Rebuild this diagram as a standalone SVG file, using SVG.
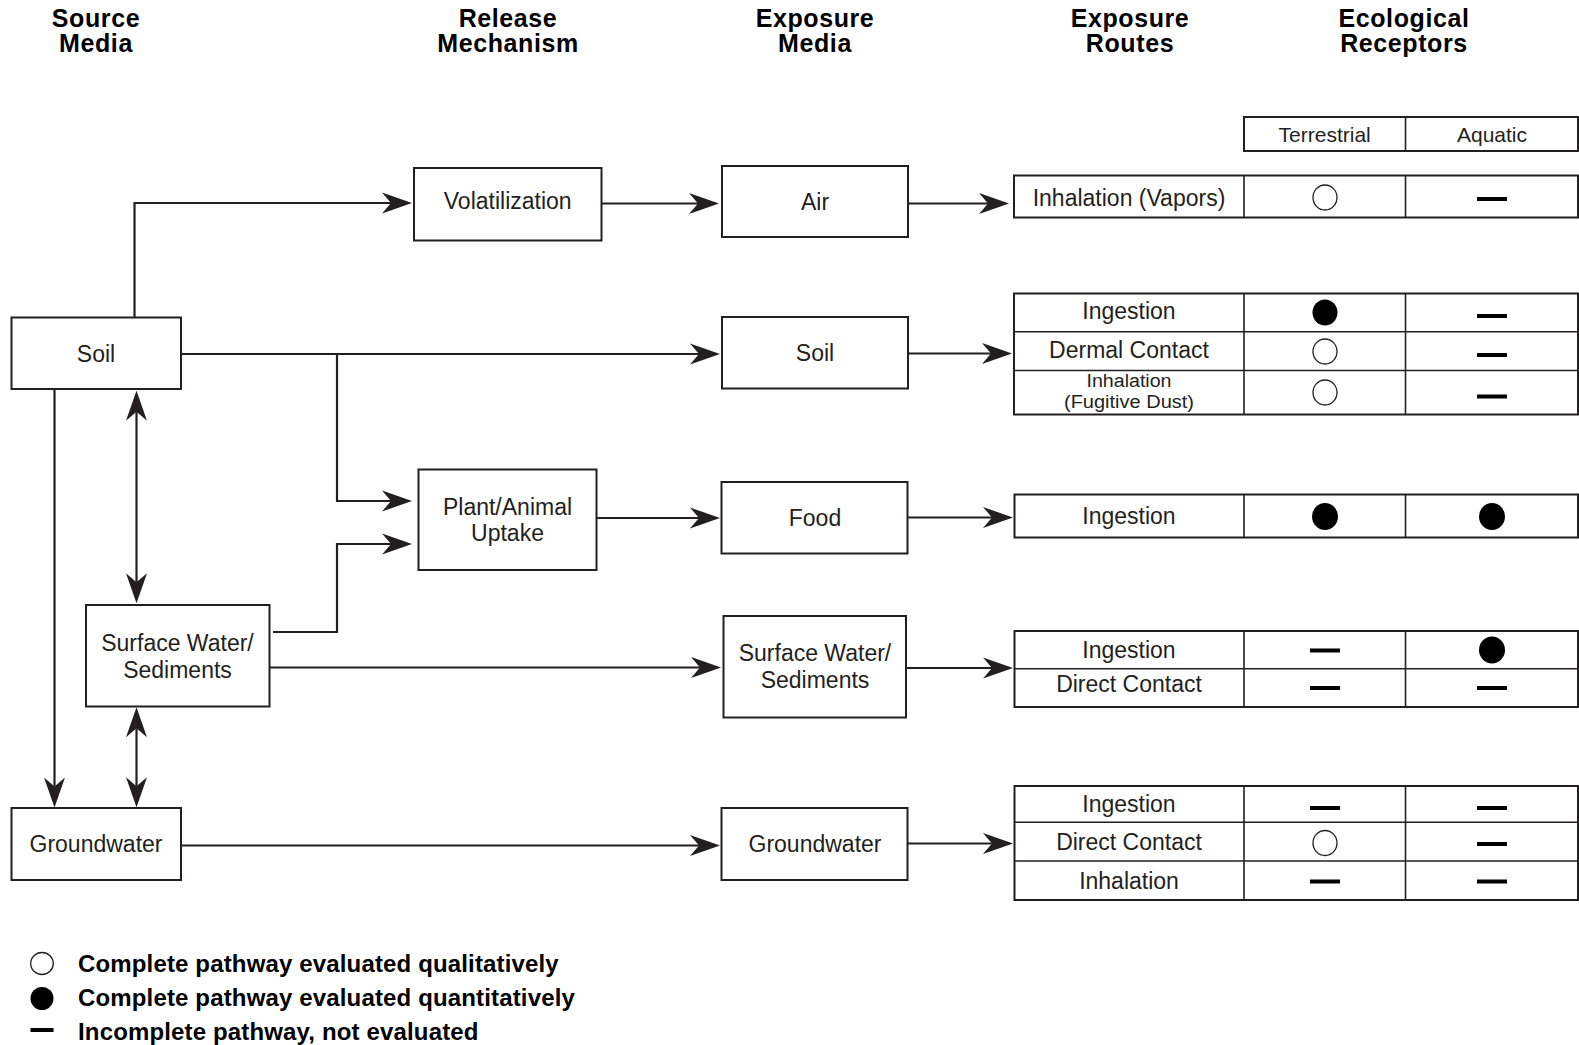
<svg xmlns="http://www.w3.org/2000/svg" width="1579" height="1045" viewBox="0 0 1579 1045">
<style>
.bg{fill:#ffffff}
.box{fill:#ffffff;stroke:#231f20;stroke-width:2}
.tbl{fill:none;stroke:#231f20;stroke-width:2}
.div{stroke:#231f20;stroke-width:1.6}
.con{fill:none;stroke:#231f20;stroke-width:2.2}
.hdr{font-family:"Liberation Sans",Arial,sans-serif;font-weight:bold;font-size:25px;letter-spacing:0.6px;fill:#000;text-anchor:middle}
.lbl{font-family:"Liberation Sans",Arial,sans-serif;font-size:23px;fill:#231f20;text-anchor:middle}
.sm{font-family:"Liberation Sans",Arial,sans-serif;font-size:18px;fill:#231f20;text-anchor:middle}
.th{font-family:"Liberation Sans",Arial,sans-serif;font-size:21px;fill:#231f20;text-anchor:middle}
.leg{font-family:"Liberation Sans",Arial,sans-serif;font-weight:bold;font-size:24px;letter-spacing:0.15px;fill:#000}
.open{fill:#ffffff;stroke:#231f20;stroke-width:1.3}
.full{fill:#000000}
.dash{fill:#000000}
</style>
<defs>
<marker id="ah" viewBox="0 0 30 22" refX="9" refY="11" markerWidth="30" markerHeight="22" markerUnits="userSpaceOnUse" orient="auto-start-reverse">
<path d="M30,11 L0,0.5 L9,11 L0,21.5 Z" fill="#231f20"/>
</marker>
</defs>
<rect class="bg" x="0" y="0" width="1579" height="1045"/>

<g id="headers">
<text class="hdr" x="96" y="27">Source</text>
<text class="hdr" x="96" y="52">Media</text>
<text class="hdr" x="508" y="27">Release</text>
<text class="hdr" x="508" y="52">Mechanism</text>
<text class="hdr" x="815" y="27">Exposure</text>
<text class="hdr" x="815" y="52">Media</text>
<text class="hdr" x="1130" y="27">Exposure</text>
<text class="hdr" x="1130" y="52">Routes</text>
<text class="hdr" x="1404" y="27">Ecological</text>
<text class="hdr" x="1404" y="52">Receptors</text>
</g>

<g id="connectors">
<path class="con" d="M134.5,317.5 V203 H391" marker-end="url(#ah)"/>
<path class="con" d="M601.5,203.5 H698" marker-end="url(#ah)"/>
<path class="con" d="M908,203.5 H988" marker-end="url(#ah)"/>
<path class="con" d="M181,354 H699" marker-end="url(#ah)"/>
<path class="con" d="M337,354 V501 H391" marker-end="url(#ah)"/>
<path class="con" d="M273,632 H337 V544 H391" marker-end="url(#ah)"/>
<path class="con" d="M591,518 H699" marker-end="url(#ah)"/>
<path class="con" d="M907.5,517.5 H992" marker-end="url(#ah)"/>
<path class="con" d="M908,353.5 H991" marker-end="url(#ah)"/>
<path class="con" d="M270,667.5 H700" marker-end="url(#ah)"/>
<path class="con" d="M906,668 H992" marker-end="url(#ah)"/>
<path class="con" d="M181,845.5 H699" marker-end="url(#ah)"/>
<path class="con" d="M907.5,843.5 H992" marker-end="url(#ah)"/>
<path class="con" d="M54.5,389 V786.5" marker-end="url(#ah)"/>
<path class="con" d="M136.5,411.7 V582.3" marker-start="url(#ah)" marker-end="url(#ah)"/>
<path class="con" d="M136.5,728.3 V786.3" marker-start="url(#ah)" marker-end="url(#ah)"/>
</g>

<g id="src-soil">
<rect class="box" x="11.5" y="317.5" width="169.5" height="71.5"/>
<text class="lbl" x="96" y="361.5">Soil</text>
</g>
<g id="src-surface-water">
<rect class="box" x="86" y="605" width="183.5" height="101.5"/>
<text class="lbl" x="177.5" y="651">Surface Water/</text>
<text class="lbl" x="177.5" y="677.5">Sediments</text>
</g>
<g id="src-groundwater">
<rect class="box" x="11.5" y="808" width="169.5" height="72"/>
<text class="lbl" x="96" y="852">Groundwater</text>
</g>

<g id="rel-volatilization">
<rect class="box" x="414" y="168" width="187.5" height="72.5"/>
<text class="lbl" x="507.7" y="209">Volatilization</text>
</g>
<g id="rel-plant-animal">
<rect class="box" x="418.5" y="469.5" width="178" height="100.5"/>
<text class="lbl" x="507.5" y="515">Plant/Animal</text>
<text class="lbl" x="507.5" y="541">Uptake</text>
</g>

<g id="exp-air">
<rect class="box" x="722" y="166" width="186" height="71"/>
<text class="lbl" x="815" y="209.5">Air</text>
</g>
<g id="exp-soil">
<rect class="box" x="722" y="317" width="186" height="71.5"/>
<text class="lbl" x="815" y="360.5">Soil</text>
</g>
<g id="exp-food">
<rect class="box" x="721.5" y="482" width="186" height="71.5"/>
<text class="lbl" x="815" y="525.5">Food</text>
</g>
<g id="exp-surface-water">
<rect class="box" x="723.5" y="616" width="182.5" height="101.5"/>
<text class="lbl" x="815" y="661">Surface Water/</text>
<text class="lbl" x="815" y="687.5">Sediments</text>
</g>
<g id="exp-groundwater">
<rect class="box" x="721.5" y="808" width="186" height="72"/>
<text class="lbl" x="815" y="851.5">Groundwater</text>
</g>

<g id="receptor-header">
<rect class="tbl" x="1244" y="117" width="334" height="34"/>
<line class="div" x1="1405.5" y1="117" x2="1405.5" y2="151"/>
<text class="th" x="1324.7" y="142">Terrestrial</text>
<text class="th" x="1492" y="142">Aquatic</text>
</g>

<g id="route-air">
<rect class="tbl" x="1014" y="175.5" width="564" height="42"/>
<line class="div" x1="1244" y1="175.5" x2="1244" y2="217.5"/>
<line class="div" x1="1405.5" y1="175.5" x2="1405.5" y2="217.5"/>
<text class="lbl" x="1129" y="205.5">Inhalation (Vapors)</text>
<ellipse class="open" cx="1325" cy="197.5" rx="12" ry="12.5"/>
<rect class="dash" x="1477" y="197" width="30" height="4"/>
</g>

<g id="route-soil">
<rect class="tbl" x="1014" y="293.5" width="564" height="121"/>
<line class="div" x1="1014" y1="331.7" x2="1578" y2="331.7"/>
<line class="div" x1="1014" y1="370.5" x2="1578" y2="370.5"/>
<line class="div" x1="1244" y1="293.5" x2="1244" y2="414.5"/>
<line class="div" x1="1405.5" y1="293.5" x2="1405.5" y2="414.5"/>
<text class="lbl" x="1129" y="319">Ingestion</text>
<text class="lbl" x="1129" y="358">Dermal Contact</text>
<text class="sm" x="1129" y="387" textLength="85" lengthAdjust="spacingAndGlyphs">Inhalation</text>
<text class="sm" x="1129" y="407.5" textLength="130" lengthAdjust="spacingAndGlyphs">(Fugitive Dust)</text>
<ellipse class="full" cx="1325" cy="312.5" rx="12.5" ry="13"/>
<rect class="dash" x="1477" y="314" width="30" height="4"/>
<ellipse class="open" cx="1325" cy="351.5" rx="12" ry="12.5"/>
<rect class="dash" x="1477" y="353" width="30" height="4"/>
<ellipse class="open" cx="1325" cy="392.5" rx="12" ry="12.5"/>
<rect class="dash" x="1477" y="394.5" width="30" height="4"/>
</g>

<g id="route-food">
<rect class="tbl" x="1014.5" y="494.5" width="563.5" height="43"/>
<line class="div" x1="1244" y1="494.5" x2="1244" y2="537.5"/>
<line class="div" x1="1405.5" y1="494.5" x2="1405.5" y2="537.5"/>
<text class="lbl" x="1129" y="523.5">Ingestion</text>
<ellipse class="full" cx="1325" cy="516.5" rx="13" ry="13.5"/>
<ellipse class="full" cx="1492" cy="516.5" rx="13" ry="13.5"/>
</g>

<g id="route-surface-water">
<rect class="tbl" x="1014.5" y="631" width="563.5" height="76"/>
<line class="div" x1="1014.5" y1="668.7" x2="1578" y2="668.7"/>
<line class="div" x1="1244" y1="631" x2="1244" y2="707"/>
<line class="div" x1="1405.5" y1="631" x2="1405.5" y2="707"/>
<text class="lbl" x="1129" y="657.5">Ingestion</text>
<text class="lbl" x="1129" y="692">Direct Contact</text>
<rect class="dash" x="1310" y="648.5" width="30" height="4"/>
<ellipse class="full" cx="1492" cy="650" rx="13" ry="13.5"/>
<rect class="dash" x="1310" y="686" width="30" height="4"/>
<rect class="dash" x="1477" y="686" width="30" height="4"/>
</g>

<g id="route-groundwater">
<rect class="tbl" x="1014.5" y="786" width="563.5" height="114"/>
<line class="div" x1="1014.5" y1="822.3" x2="1578" y2="822.3"/>
<line class="div" x1="1014.5" y1="861" x2="1578" y2="861"/>
<line class="div" x1="1244" y1="786" x2="1244" y2="900"/>
<line class="div" x1="1405.5" y1="786" x2="1405.5" y2="900"/>
<text class="lbl" x="1129" y="811.5">Ingestion</text>
<text class="lbl" x="1129" y="850">Direct Contact</text>
<text class="lbl" x="1129" y="889">Inhalation</text>
<rect class="dash" x="1310" y="806" width="30" height="4"/>
<rect class="dash" x="1477" y="806" width="30" height="4"/>
<ellipse class="open" cx="1325" cy="843" rx="12" ry="12.5"/>
<rect class="dash" x="1477" y="842" width="30" height="4"/>
<rect class="dash" x="1310" y="879.5" width="30" height="4"/>
<rect class="dash" x="1477" y="879.5" width="30" height="4"/>
</g>

<g id="legend">
<ellipse class="open" cx="42" cy="963.5" rx="11.3" ry="11"/>
<text class="leg" x="78" y="971.5">Complete pathway evaluated qualitatively</text>
<ellipse class="full" cx="42" cy="998.5" rx="11.5" ry="11.5"/>
<text class="leg" x="78" y="1005.5">Complete pathway evaluated quantitatively</text>
<rect class="dash" x="30.5" y="1028" width="23" height="4"/>
<text class="leg" x="78" y="1039.5">Incomplete pathway, not evaluated</text>
</g>
</svg>
